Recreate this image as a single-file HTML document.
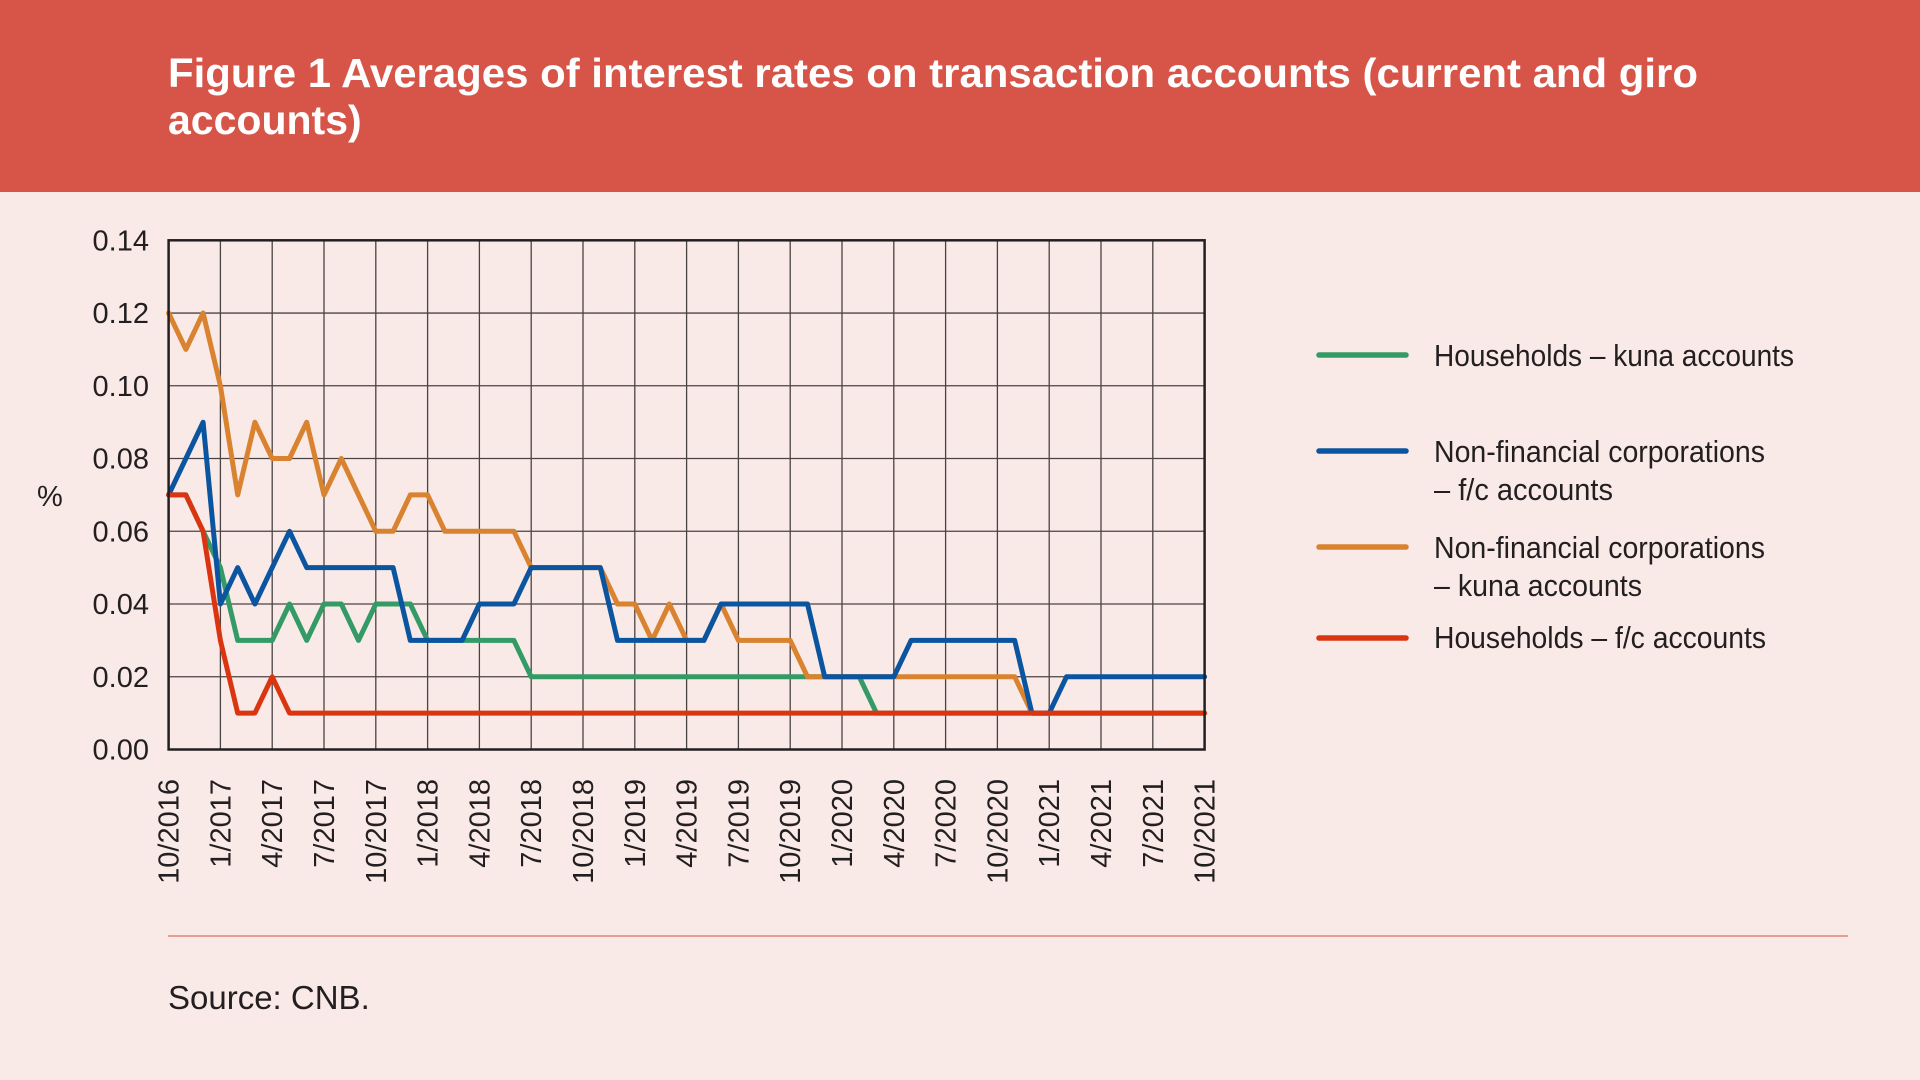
<!DOCTYPE html>
<html><head><meta charset="utf-8"><style>
html,body{margin:0;padding:0;background:#F9EAE7;}
svg{display:block;}
text{font-family:"Liberation Sans Narrow","Liberation Sans",sans-serif;fill:#231f20;}
</style></head><body>
<svg id="s" width="1920" height="1080" viewBox="0 0 1920 1080" xmlns="http://www.w3.org/2000/svg">
<rect x="0" y="0" width="1920" height="1080" fill="#F9EAE7"/>
<rect x="0" y="0" width="1920" height="192" fill="#D65548"/>
<text x="168" y="87" style="font-family:'Liberation Sans',sans-serif;font-weight:bold;font-size:41px;fill:#fff" textLength="1530" lengthAdjust="spacingAndGlyphs">Figure 1 Averages of interest rates on transaction accounts (current and giro</text>
<text x="168" y="134" style="font-family:'Liberation Sans',sans-serif;font-weight:bold;font-size:41px;fill:#fff">accounts)</text>
<g id="grid"></g>
<g id="lines"></g>
<rect x="168.6" y="240.3" width="1036" height="509.2" fill="none" stroke="#231f20" stroke-width="2.5"/>
<text x="37" y="506" style="font-size:29px">%</text>
<g id="leg">
<line x1="1319" y1="355" x2="1406" y2="355" stroke="#349A66" stroke-width="5.5" stroke-linecap="round"/>
<line x1="1319" y1="451" x2="1406" y2="451" stroke="#0B55A0" stroke-width="5.5" stroke-linecap="round"/>
<line x1="1319" y1="547" x2="1406" y2="547" stroke="#D98330" stroke-width="5.5" stroke-linecap="round"/>
<line x1="1319" y1="638" x2="1406" y2="638" stroke="#DA3510" stroke-width="5.5" stroke-linecap="round"/>
<text x="1434" y="366" style="font-size:31px" textLength="360" lengthAdjust="spacingAndGlyphs">Households – kuna accounts</text>
<text x="1434" y="462" style="font-size:31px" textLength="331" lengthAdjust="spacingAndGlyphs">Non-financial corporations</text>
<text x="1434" y="500" style="font-size:31px" textLength="179" lengthAdjust="spacingAndGlyphs">– f/c accounts</text>
<text x="1434" y="558" style="font-size:31px" textLength="331" lengthAdjust="spacingAndGlyphs">Non-financial corporations</text>
<text x="1434" y="596" style="font-size:31px" textLength="208" lengthAdjust="spacingAndGlyphs">– kuna accounts</text>
<text x="1434" y="648" style="font-size:31px" textLength="332" lengthAdjust="spacingAndGlyphs">Households – f/c accounts</text>
</g>
<line x1="168" y1="936" x2="1848" y2="936" stroke="#E0857A" stroke-width="1.5"/>
<text x="168" y="1009" style="font-family:'Liberation Sans',sans-serif;font-size:33px">Source: CNB.</text>
</svg>
<script>
var NS="http://www.w3.org/2000/svg";
var L=168.6,T=240.3,B=749.5,M=1036/60,U=(B-T)/14;
function X(i){return L+M*i}function Y(v){return B-U*v}
function el(t,a,p,txt){var e=document.createElementNS(NS,t);for(var k in a)e.setAttribute(k,a[k]);if(txt)e.textContent=txt;p.appendChild(e);return e}
var g=document.getElementById("grid");
for(var k=1;k<7;k++)el("line",{x1:L,x2:L+1036,y1:Y(2*k),y2:Y(2*k),stroke:"#4a4344","stroke-width":1.3},g);
for(var k=1;k<20;k++)el("line",{x1:X(3*k),x2:X(3*k),y1:T,y2:B,stroke:"#4a4344","stroke-width":1.3},g);
var s=document.getElementById("s");
var tl=["0.00","0.02","0.04","0.06","0.08","0.10","0.12","0.14"];
for(var k=0;k<=7;k++)el("text",{x:149,y:Y(2*k)+10,"text-anchor":"end",style:"font-size:29px"},s,tl[k]);
var ms=["10","1","4","7"];
for(var k=0;k<=20;k++){var yr=2016+Math.floor((k+3)/4);var lab=ms[k%4]+"/"+yr;var x=X(3*k)+10;
el("text",{x:x,y:779,"text-anchor":"end",transform:"rotate(-90 "+x+" 779)",style:"font-size:29px"},s,lab);}
function rep(v,n){var a=[];for(var i=0;i<n;i++)a.push(v);return a}
var green=[7,7,6,5,3,3,3,4,3,4,4,3,4,4,4,3,3,3,3,3,3].concat(rep(2,20),rep(1,20));
var orange=[12,11,12,10,7,9,8,8,9,7,8,7,6,6,7,7,6,6,6,6,6,5,5,5,5,5,4,4,3,4,3,3,4,3,3,3,3].concat(rep(2,13),rep(1,11));
var blue=[7,8,9,4,5,4,5,6,5,5,5,5,5,5,3,3,3,3,4,4,4,5,5,5,5,5,3,3,3,3,3,3,4,4,4,4,4,4,2,2,2,2,2,3,3,3,3,3,3,3,1,1].concat(rep(2,9));
var red=[7,7,6,3,1,1,2].concat(rep(1,54));
var lg=document.getElementById("lines");
[[green,"#349A66"],[orange,"#D98330"],[blue,"#0B55A0"],[red,"#DA3510"]].forEach(function(p){
var pts=p[0].map(function(v,i){return X(i).toFixed(1)+","+Y(v).toFixed(1)}).join(" ");
el("polyline",{points:pts,fill:"none",stroke:p[1],"stroke-width":5,"stroke-linejoin":"round","stroke-linecap":"round"},lg);});
</script>
</body></html>
